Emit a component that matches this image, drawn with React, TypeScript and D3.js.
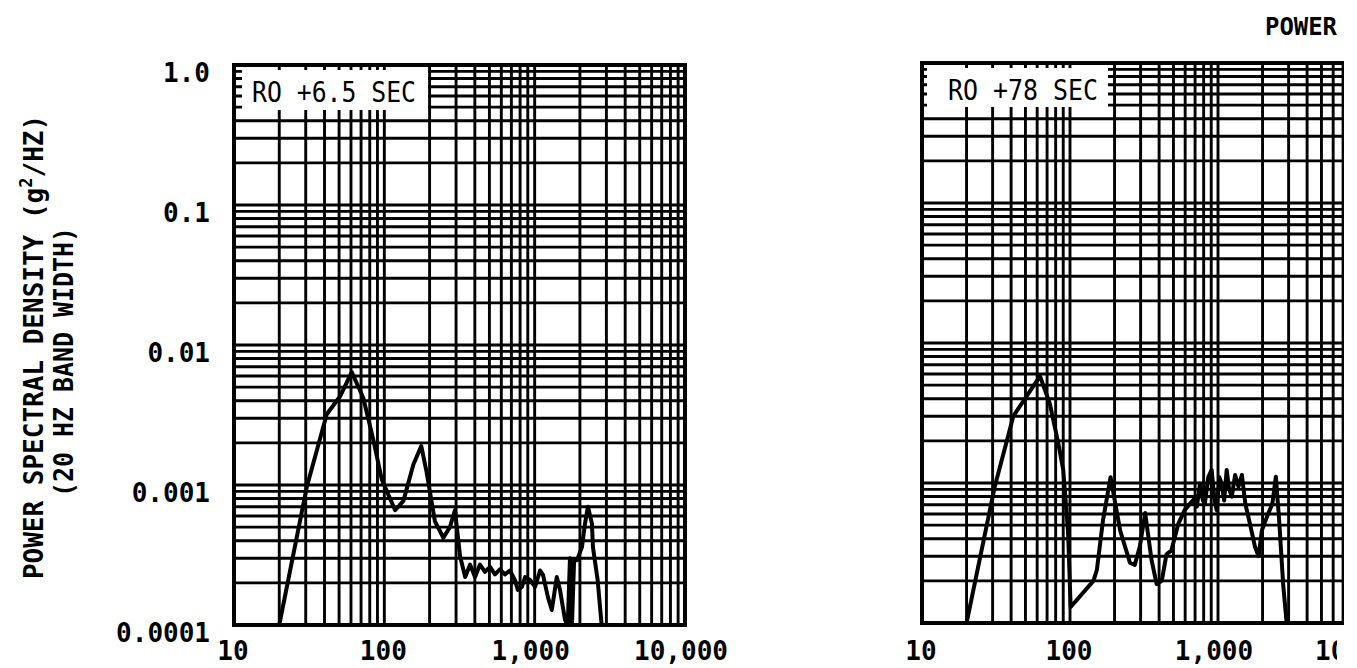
import React, { useEffect, useRef } from 'react';
import * as d3 from 'd3';

// ---- data ----
const leftFreq = [20, 30.5, 41.4, 50.8, 60.7, 72.4, 84.5, 96, 118, 134, 156, 176, 191, 217, 247, 273, 295, 319, 345, 372, 401, 433, 467, 505, 544, 587, 634, 684, 738, 773, 822, 864, 932, 1006, 1086, 1136, 1225, 1300, 1403, 1474, 1591, 1660, 1717, 1770, 1830, 1912, 2063, 2162, 2262, 2404, 2442, 2623, 2789];
const leftPsd = [0.0001, 0.00097, 0.0032, 0.0043, 0.0064, 0.0042, 0.0021, 0.0011, 0.00066, 0.00077, 0.0014, 0.0019, 0.00124, 0.00055, 0.00042, 0.0005, 0.00066, 0.00031, 0.00022, 0.00027, 0.00022, 0.00027, 0.00024, 0.00026, 0.00023, 0.00025, 0.00023, 0.000245, 0.00021, 0.000178, 0.000187, 0.00022, 0.00021, 0.000187, 0.000245, 0.000228, 0.000158, 0.000128, 0.00022, 0.000178, 0.000109, 0.0001, 0.0003, 0.0001, 0.00029, 0.00029, 0.00036, 0.00053, 0.0007, 0.00053, 0.00036, 0.00021, 0.0001];

const rightFreq = [20, 31, 41.4, 62.7, 73, 83.5, 90, 97, 101, 144, 152, 167, 188, 218, 254, 274, 296, 322, 356, 385, 417, 449, 484, 539, 595, 682, 720, 756, 790, 815, 860, 906, 945, 980, 1020, 1060, 1100, 1145, 1190, 1240, 1305, 1375, 1450, 1530, 1645, 1778, 1880, 1980, 2150, 2330, 2460, 2590, 2760, 2910];
const rightPsd = [0.0001, 0.00094, 0.003, 0.0058, 0.0037, 0.0019, 0.00124, 0.00045, 0.00013, 0.0002, 0.00024, 0.00054, 0.0011, 0.00046, 0.00027, 0.00026, 0.00035, 0.00061, 0.00028, 0.00019, 0.0002, 0.00031, 0.00033, 0.00051, 0.00064, 0.00076, 0.00068, 0.00099, 0.00075, 0.00071, 0.0011, 0.00124, 0.00078, 0.00064, 0.0011, 0.00099, 0.00075, 0.00124, 0.0009, 0.0008, 0.00114, 0.00094, 0.00114, 0.00071, 0.00051, 0.00035, 0.0003, 0.00046, 0.00058, 0.00071, 0.00111, 0.00054, 0.000185, 0.0001];

const xTickValues = [10, 100, 1000, 10000];
const xTickLabels = ['10', '100', '1,000', '10,000'];
const yTickValues = [1, 0.1, 0.01, 0.001, 0.0001];
const yTickLabels = ['1.0', '0.1', '0.01', '0.001', '0.0001'];
const panelLabels = ['RO +6.5 SEC', 'RO +78 SEC'];
const yTitleLine1 = ['POWER SPECTRAL DENSITY (g', '2', '/HZ)'];
const yTitleLine2 = '(20 HZ BAND WIDTH)';
const headerText = 'POWER';

const MONO = "'DejaVu Sans Mono', 'Liberation Mono', monospace";

function gridValues(lo: number, hi: number) {
  const out: number[] = [];
  for (let e = Math.log10(lo); e < Math.log10(hi); e++) {
    for (let k = 1; k <= 9; k++) out.push(k * Math.pow(10, e));
  }
  out.push(hi);
  return out;
}

export default function App() {
  const ref = useRef<SVGSVGElement>(null);

  useEffect(() => {
    const svg = d3.select(ref.current);
    svg.selectAll('*').remove();
    const defs = svg.append('defs');

    const panels = [
      { x0: 234, x1: 685, yb: 625, yt: 65, freq: leftFreq, psd: leftPsd, label: panelLabels[0], clipR: 2000, box: [8, 194, 5, 45], txtLen: 164, showY: true, lblClip: 2000 },
      { x0: 922, x1: 1366, yb: 623, yt: 63, freq: rightFreq, psd: rightPsd, label: panelLabels[1], clipR: 1344, box: [5, 186, 5, 44], txtLen: 150, showY: false, lblClip: 1337 },
    ];

    panels.forEach((p, i) => {
      const x = d3.scaleLog().domain([10, 10000]).range([p.x0, p.x1]);
      const y = d3.scaleLog().domain([1e-4, 1]).range([p.yb, p.yt]);

      defs.append('clipPath').attr('id', `clip${i}`)
        .append('rect').attr('x', p.x0 - 10).attr('y', 0).attr('width', p.clipR - p.x0 + 10).attr('height', 668);
      defs.append('clipPath').attr('id', `clipl${i}`)
        .append('rect').attr('x', 0).attr('y', 0).attr('width', p.lblClip).attr('height', 668);

      const g = svg.append('g').attr('clip-path', `url(#clip${i})`);

      // vertical grid
      g.append('g').selectAll('line').data(gridValues(10, 10000)).join('line')
        .attr('x1', d => x(d)).attr('x2', d => x(d))
        .attr('y1', p.yt).attr('y2', p.yb)
        .attr('stroke', '#000').attr('stroke-width', 2.9);
      // horizontal grid
      g.append('g').selectAll('line').data(gridValues(1e-4, 1)).join('line')
        .attr('x1', p.x0).attr('x2', p.x1)
        .attr('y1', d => y(d)).attr('y2', d => y(d))
        .attr('stroke', '#000').attr('stroke-width', 2.9);

      // frame
      g.append('rect').attr('x', p.x0).attr('y', p.yt)
        .attr('width', p.x1 - p.x0).attr('height', p.yb - p.yt)
        .attr('fill', 'none').attr('stroke', '#000').attr('stroke-width', 4);

      // label box
      const [bl, br, bt, bb] = p.box;
      g.append('rect').attr('x', p.x0 + bl).attr('y', p.yt + bt)
        .attr('width', br - bl).attr('height', bb - bt).attr('fill', '#fff');
      g.append('text').attr('x', p.x0 + 18 + (i === 1 ? 8 : 0)).attr('y', p.yt + 37)
        .attr('font-family', MONO).attr('font-size', 28)
        .attr('textLength', p.txtLen).attr('lengthAdjust', 'spacingAndGlyphs')
        .text(p.label);

      // curve
      const pts = p.freq.map((f, k) => [f, p.psd[k]] as [number, number]);
      g.append('path').datum(pts)
        .attr('d', d3.line<[number, number]>().x(d => x(d[0])).y(d => y(d[1])))
        .attr('fill', 'none').attr('stroke', '#000').attr('stroke-width', 4)
        .attr('stroke-linejoin', 'round').attr('stroke-linecap', 'round');

      // x tick labels
      svg.append('g').attr('clip-path', `url(#clipl${i})`).selectAll('text')
        .data(xTickValues).join('text')
        .attr('x', (d, k) => x(d) - (k >= 2 ? 4 : 1))
        .attr('y', 660)
        .attr('text-anchor', 'middle')
        .attr('font-family', MONO).attr('font-weight', 'bold').attr('font-size', 26)
        .text((d, k) => xTickLabels[k]);

      if (p.showY) {
        svg.append('g').selectAll('text').data(yTickValues).join('text')
          .attr('x', 210).attr('y', d => y(d) + 17)
          .attr('text-anchor', 'end')
          .attr('font-family', MONO).attr('font-weight', 'bold').attr('font-size', 26)
          .text((d, k) => yTickLabels[k]);
      }
    });

    // y-axis title
    const t1 = svg.append('text')
      .attr('transform', 'translate(43,347) rotate(-90)')
      .attr('text-anchor', 'middle')
      .attr('font-family', MONO).attr('font-weight', 'bold').attr('font-size', 26);
    t1.append('tspan').text(yTitleLine1[0]);
    t1.append('tspan').attr('dy', -11).attr('font-size', 17).text(yTitleLine1[1]);
    t1.append('tspan').attr('dy', 11).text(yTitleLine1[2]);

    svg.append('text')
      .attr('transform', 'translate(73,362) rotate(-90)')
      .attr('text-anchor', 'middle')
      .attr('font-family', MONO).attr('font-weight', 'bold').attr('font-size', 26)
      .attr('textLength', 270).attr('lengthAdjust', 'spacingAndGlyphs')
      .text(yTitleLine2);

    svg.append('text').attr('x', 1265).attr('y', 35)
      .attr('font-family', MONO).attr('font-weight', 'bold').attr('font-size', 24)
      .attr('textLength', 72).attr('lengthAdjust', 'spacingAndGlyphs')
      .text(headerText);
  }, []);

  return (
    <svg ref={ref} width={1357} height={668}
      style={{ position: 'absolute', left: 0, top: 0, background: '#fff', display: 'block' }} />
  );
}
